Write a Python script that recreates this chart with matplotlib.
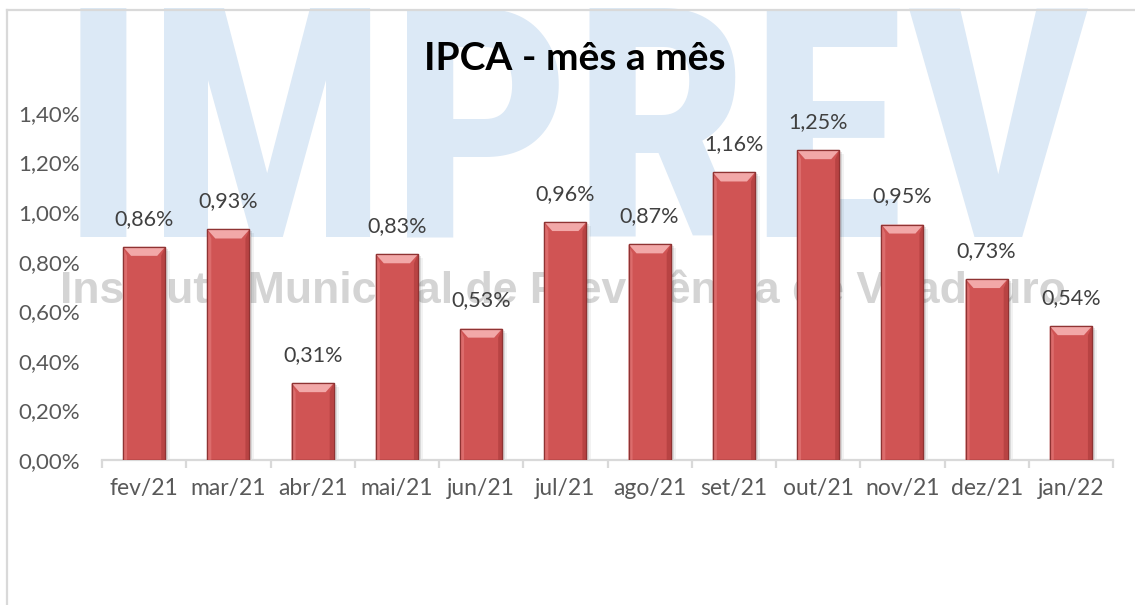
import matplotlib
matplotlib.use("Agg")
import matplotlib.pyplot as plt
from matplotlib.patches import Polygon, Rectangle
from matplotlib.lines import Line2D
from matplotlib.ticker import FuncFormatter, FixedLocator
from matplotlib import font_manager

categories = ["fev/21", "mar/21", "abr/21", "mai/21", "jun/21", "jul/21",
              "ago/21", "set/21", "out/21", "nov/21", "dez/21", "jan/22"]
values = [0.86, 0.93, 0.31, 0.83, 0.53, 0.96, 0.87, 1.16, 1.25, 0.95, 0.73, 0.54]
title = "IPCA - mês a mês"
yticks = [0.0, 0.2, 0.4, 0.6, 0.8, 1.0, 1.2, 1.4]
watermark_big = "IMPREV"
watermark_small = "Instituto Municipal de Previdência de Viradouro"

W, H, DPI = 1135, 605, 100
installed = {f.name for f in font_manager.fontManager.ttflist}
label_font = "Lato" if "Lato" in installed else "DejaVu Sans"
narrow = "Liberation Sans"
for cand in ["Liberation Sans Narrow", "DejaVu Sans Condensed", "Roboto Condensed",
             "Open Sans Condensed"]:
    if cand in installed:
        narrow = cand
        break
plain = "Liberation Sans" if "Liberation Sans" in installed else "DejaVu Sans"

fig = plt.figure(figsize=(W / DPI, H / DPI), dpi=DPI)
fig.patch.set_facecolor("white")

def px(x, y):
    return x / W, 1 - y / H

# axes
l, b = px(102, 460)
r, t = px(1113, 113)
ax = fig.add_axes([l, b, r - l, t - b])
ax.set_facecolor("none")
ax.patch.set_alpha(0)
ax.set_zorder(2)

n = len(categories)
xs = list(range(n))
bw = 0.5
ax.set_xlim(-0.5, n - 0.5)
ax.set_ylim(0, 1.4)

# px -> data scale factors for bevel styling
dx_per_px = n / (1113 - 102)
dy_per_px = 1.4 / (460 - 113)

# shadows
for x, v in zip(xs, values):
    ax.add_patch(Rectangle((x - bw / 2 + 3 * dx_per_px, 0), bw, v - 2 * dy_per_px,
                           facecolor="#000000", alpha=0.10, edgecolor="none", zorder=1))
    ax.add_patch(Rectangle((x - bw / 2 + 5 * dx_per_px, 0), bw, v - 4 * dy_per_px,
                           facecolor="#000000", alpha=0.05, edgecolor="none", zorder=1))

bars = ax.bar(xs, values, width=bw, color="#d05454", edgecolor="#8f3333",
              linewidth=0.9, zorder=3)

bev_x = 8 * dx_per_px
bev_y = 9 * dy_per_px
side = 4 * dx_per_px
for x, v in zip(xs, values):
    x0, x1 = x - bw / 2, x + bw / 2
    # left lighter side, right darker side
    ax.add_patch(Polygon([(x0, 0), (x0, v), (x0 + side, v - bev_y), (x0 + side, 0)],
                         closed=True, facecolor="#dc6c6c", edgecolor="none", zorder=4))
    ax.add_patch(Polygon([(x1, 0), (x1, v), (x1 - side, v - bev_y), (x1 - side, 0)],
                         closed=True, facecolor="#b84343", edgecolor="none", zorder=4))
    # top bevel
    ax.add_patch(Polygon([(x0, v), (x1, v), (x1 - bev_x, v - bev_y), (x0 + bev_x, v - bev_y)],
                         closed=True, facecolor="#f2a8a8", edgecolor="none", zorder=4))
    ax.add_patch(Rectangle((x0, 0), bw, v, facecolor="none", edgecolor="#8f3333",
                           linewidth=0.9, zorder=5))
    ax.annotate(f"{v:.2f}%".replace(".", ","), (x, v), xytext=(0, 13),
                textcoords="offset points", ha="center", va="bottom",
                fontsize=15.5, color="#404040", family=label_font, zorder=6)

# axes styling
for s in ["top", "right", "left"]:
    ax.spines[s].set_visible(False)
ax.spines["bottom"].set_color("#d9d9d9")
ax.spines["bottom"].set_linewidth(1.6)
ax.set_xticks(xs)
ax.set_xticklabels(categories, fontsize=16.5, color="#595959", family=label_font)
ax.xaxis.set_minor_locator(FixedLocator([i - 0.5 for i in range(n + 1)]))
ax.tick_params(axis="x", which="major", length=0, pad=13)
ax.tick_params(axis="x", which="minor", length=6, width=1.6, color="#d9d9d9")
ax.set_yticks(yticks)
ax.yaxis.set_major_formatter(FuncFormatter(lambda v, p: f"{v:.2f}%".replace(".", ",")))
ax.tick_params(axis="y", length=0, pad=16, labelsize=16, labelcolor="#595959")
for lab in ax.get_yticklabels():
    lab.set_family(label_font)

# watermarks (behind the axes)
fig.canvas.draw()
renderer = fig.canvas.get_renderer()

def fit_text(txt, x_left, x_right, y_base, color, family, weight, z):
    t0 = fig.text(x_left / W, 1 - y_base / H, txt, ha="left", va="baseline",
                  fontsize=100, color=color, family=family, fontweight=weight, zorder=z)
    bb = t0.get_window_extent(renderer)
    t0.set_fontsize(100 * (x_right - x_left) / bb.width)
    return t0

fit_text(watermark_big, 60, 1092, 237, "#dce9f6", narrow, "bold", 0)
fit_text(watermark_small, 60, 1066, 303, "#d4d4d4", plain, "bold", 1)

# title
fig.text(575 / W, 1 - 58 / H, title, ha="center", va="center", fontsize=28,
         fontweight="bold", color="#000000", family=label_font, zorder=6)

# outer chart frame
fig.add_artist(Line2D([7 / W, 7 / W], [0, 1 - 10 / H], color="#d9d9d9", lw=1.6,
                      transform=fig.transFigure, zorder=1.5))
fig.add_artist(Line2D([7 / W, 1], [1 - 10 / H, 1 - 10 / H], color="#d9d9d9", lw=1.6,
                      transform=fig.transFigure, zorder=1.5))

fig.savefig("out.png", dpi=DPI, facecolor="white")
